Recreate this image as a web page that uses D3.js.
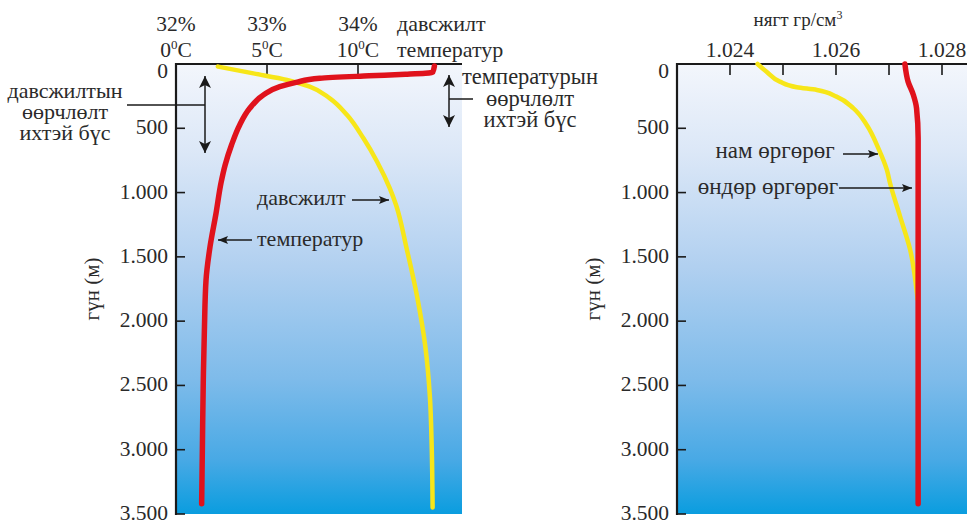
<!DOCTYPE html>
<html>
<head>
<meta charset="utf-8">
<script src="https://cdn.jsdelivr.net/npm/d3@7"></script>
</head>
<body style="margin:0;background:#fff">
<svg id="chart" width="968" height="524"></svg>
<script>
// Depth axis (m)
const depthTicks = [0, 500, 1000, 1500, 2000, 2500, 3000, 3500];

// Temperature profile (°C by depth)
const tempDepth = [15, 65, 80, 92, 111, 143, 176, 241, 345, 474, 630, 785, 920, 1161, 1421, 1680, 2069, 2457, 2976, 3420];
const tempValue = [14.2, 14.1, 12.6, 10.6, 7.9, 6.6, 5.7, 4.8, 4.05, 3.5, 3.05, 2.7, 2.48, 2.2, 1.87, 1.65, 1.56, 1.5, 1.45, 1.41];

// Salinity profile (% by depth)
const salDepth = [20, 73, 124, 176, 267, 397, 578, 760, 967, 1100, 1421, 1810, 2198, 2587, 2976, 3450];
const salValue = [32.46, 32.85, 33.22, 33.47, 33.69, 33.88, 34.06, 34.21, 34.35, 34.42, 34.53, 34.65, 34.74, 34.79, 34.81, 34.82];

// Density profiles (g/cm³ by depth)
const lowLatDepth = [0, 60, 137, 181, 202, 254, 345, 474, 656, 824, 928, 1187, 1446, 1757, 1830];
const lowLatValue = [1.02452, 1.02469, 1.02494, 1.02526, 1.02564, 1.02601, 1.02633, 1.02658, 1.0268, 1.02696, 1.02702, 1.02721, 1.0274, 1.02752, 1.02754];
const highLatDepth = [0, 137, 241, 345, 578, 1500, 2500, 3420];
const highLatValue = [1.0273, 1.02736, 1.02746, 1.02752, 1.02755, 1.02755, 1.02755, 1.02755];

// Top axis ticks
const tempTicks = [0, 5, 10];
const salTicks = [32, 33, 34];
const densTicks = [1.024, 1.025, 1.026, 1.027, 1.028];
const densLabels = [1.024, 1.026, 1.028];

const svg = d3.select("#chart");
const RED = "#e0121c", YELLOW = "#f7e619", INK = "#1a1a1a", TEXT = "#2a2a2a";
const FONT = "Liberation Serif";
const NUM = 21.5, ANN = 22;

const locale = d3.formatLocale({ decimal: ",", thousands: ".", grouping: [3], currency: ["", ""] });
const fmtDepth = locale.format(",d");
const fmtDens = d3.format(".3f");

const plotTop = 64, plotBottom = 514;
const y = d3.scaleLinear().domain([0, 3500]).range([plotTop, plotBottom]);

// Background gradient of the water column
const defs = svg.append("defs");
const grad = defs.append("linearGradient").attr("id", "water").attr("x1", 0).attr("x2", 0).attr("y1", 0).attr("y2", 1);
[[0, "#f3f6fc"], [0.2, "#dbe7f7"], [0.45, "#b1d0f0"], [0.7, "#7ebbea"], [0.88, "#48a9e5"], [1, "#0a9ddf"]]
  .forEach(([o, c]) => grad.append("stop").attr("offset", o).attr("stop-color", c));

const mk = defs.append("marker").attr("id", "head").attr("viewBox", "0 0 10 10")
  .attr("refX", 10).attr("refY", 5).attr("markerWidth", 11).attr("markerHeight", 10)
  .attr("markerUnits", "userSpaceOnUse").attr("orient", "auto-start-reverse");
mk.append("path").attr("d", "M0,1 L10,5 L0,9 L2,5 Z").attr("fill", INK);
const mkBig = defs.append("marker").attr("id", "headBig").attr("viewBox", "0 0 10 10")
  .attr("refX", 10).attr("refY", 5).attr("markerWidth", 16).attr("markerHeight", 12)
  .attr("markerUnits", "userSpaceOnUse").attr("orient", "auto-start-reverse");
mkBig.append("path").attr("d", "M0,0 L10,5 L0,10 L2.5,5 Z").attr("fill", INK);

// Every label goes through here so it gets the serif face and ink colour
function label(g, x, yy, str, size, anchor) {
  return g.append("text").attr("x", x).attr("y", yy)
    .attr("font-family", FONT).attr("font-size", size).attr("fill", TEXT)
    .attr("text-anchor", anchor || "start").text(str);
}

function depthAxis(g, x0, x1) {
  g.append("rect").attr("x", x0).attr("y", plotTop).attr("width", x1 - x0).attr("height", plotBottom - plotTop)
    .attr("fill", "url(#water)");
  g.append("line").attr("x1", x0).attr("x2", x0).attr("y1", plotTop - 1).attr("y2", plotBottom + 1)
    .attr("stroke", INK).attr("stroke-width", 2.2);
  g.append("line").attr("x1", x0 - 1).attr("x2", x1).attr("y1", plotTop).attr("y2", plotTop)
    .attr("stroke", INK).attr("stroke-width", 2.2);
  depthTicks.forEach(d => {
    if (d > 0) g.append("line").attr("x1", x0).attr("x2", x0 + 9).attr("y1", y(d)).attr("y2", y(d))
      .attr("stroke", INK).attr("stroke-width", 1.6);
    // the surface label sits just under the top axis line
    label(g, x0 - 8, y(d) + (d === 0 ? 14 : 6), fmtDepth(d), NUM, "end");
  });
  label(g, 0, 0, "гүн (м)", 21, "middle").attr("x", null).attr("y", null)
    .attr("transform", `translate(${x0 - 77},${289}) rotate(-90)`);
}

function profile(g, depths, values, x, color, width) {
  const pts = depths.map((d, i) => [x(values[i]), y(d)]);
  g.append("path").datum(pts)
    .attr("d", d3.line().curve(d3.curveMonotoneY))
    .attr("fill", "none").attr("stroke", color).attr("stroke-width", width)
    .attr("stroke-linecap", "round").attr("stroke-linejoin", "round");
}

function arrow(g, x1, y1, x2, y2, marker) {
  g.append("line").attr("x1", x1).attr("y1", y1).attr("x2", x2).attr("y2", y2)
    .attr("stroke", INK).attr("stroke-width", 1.5).attr("marker-end", `url(#${marker})`);
}

// Centered multi-line block as one text element
function block(g, cx, y0, step, texts, size) {
  const t = label(g, cx, y0, "", size, "middle");
  texts.forEach((s, i) => t.append("tspan").attr("x", cx).attr("dy", i === 0 ? 0 : step).text(s));
}

// ---- Left panel: temperature and salinity ----
const L = svg.append("g");
const xT = d3.scaleLinear().domain([0, 10]).range([176, 358]);
const xS = d3.scaleLinear().domain([32, 34]).range([176, 358]);
depthAxis(L, 176, 462);

tempTicks.filter(t => t > 0).forEach(t =>
  L.append("line").attr("x1", xT(t)).attr("x2", xT(t)).attr("y1", plotTop).attr("y2", plotTop + 10)
    .attr("stroke", INK).attr("stroke-width", 1.6));
salTicks.forEach(s => label(L, xS(s), 31, s + "%", NUM, "middle"));
tempTicks.forEach(t => {
  const tx = label(L, xT(t), 57, "", NUM, "middle");
  tx.append("tspan").text(t);
  tx.append("tspan").attr("font-size", 13).attr("dy", -8).text("0");
  tx.append("tspan").attr("dy", 8).text("C");
});
label(L, 397, 31, "давсжилт", ANN);
label(L, 397, 57, "температур", ANN);

profile(L, salDepth, salValue, xS, YELLOW, 4.5);
profile(L, tempDepth, tempValue, xT, RED, 5.5);

// Salinity layer annotation
block(L, 65, 98, 21, ["давсжилтын", "өөрчлөлт", "ихтэй бүс"], ANN);
L.append("line").attr("x1", 127).attr("x2", 205).attr("y1", 105).attr("y2", 105).attr("stroke", INK).attr("stroke-width", 1.5);
arrow(L, 205, 105, 205, 76, "headBig");
arrow(L, 205, 105, 205, 153, "headBig");

// Thermocline annotation
block(L, 530, 84, 21.5, ["температурын", "өөрчлөлт", "ихтэй бүс"], 22.5);
L.append("line").attr("x1", 449).attr("x2", 473).attr("y1", 99).attr("y2", 99).attr("stroke", INK).attr("stroke-width", 1.5);
arrow(L, 449, 99, 449, 75, "headBig");
arrow(L, 449, 99, 449, 127, "headBig");

label(L, 257, 205, "давсжилт", ANN);
arrow(L, 352, 200, 389, 200, "head");
label(L, 257, 246, "температур", ANN);
arrow(L, 252, 240, 218, 240, "head");

// ---- Right panel: density ----
const R = svg.append("g");
const xD = d3.scaleLinear().domain([1.023, 1.028]).range([677, 942]);
depthAxis(R, 677, 967);
densTicks.forEach(d =>
  R.append("line").attr("x1", xD(d)).attr("x2", xD(d)).attr("y1", plotTop).attr("y2", plotTop + 11)
    .attr("stroke", INK).attr("stroke-width", 1.6));
densLabels.forEach(d => label(R, xD(d), 57, fmtDens(d), NUM, "middle"));
const ttl = label(R, 798, 26, "", 19, "middle");
ttl.append("tspan").text("нягт гр/см");
ttl.append("tspan").attr("font-size", 12).attr("dy", -7).text("3");

profile(R, lowLatDepth, lowLatValue, xD, YELLOW, 4.5);
profile(R, highLatDepth, highLatValue, xD, RED, 5.5);

label(R, 775, 158, "нам өргөрөг", 23, "middle");
arrow(R, 843, 154, 878, 154, "head");
label(R, 768, 194, "өндөр өргөрөг", 23, "middle");
arrow(R, 839, 188, 912, 188, "head");
</script>
</body>
</html>
